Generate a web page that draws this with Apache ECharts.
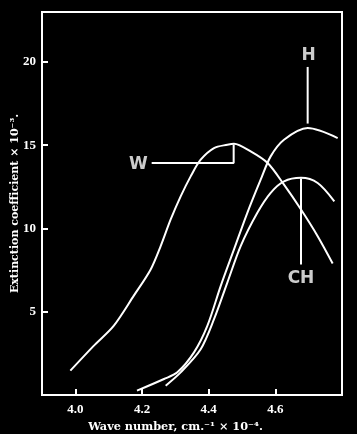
<!DOCTYPE html>
<html>
<head>
<meta charset="utf-8">
<script src="https://cdn.jsdelivr.net/npm/echarts@6/dist/echarts.min.js"></script>
<style>
html,body{margin:0;padding:0;background:#000;}
#c{width:357px;height:434px;}
</style>
</head>
<body>
<div id="c"></div>
<script>
const xTicks = [4.0, 4.2, 4.4, 4.6];
const yTicks = [5, 10, 15, 20];
const wCurve = [[3.985,1.46],[4.055,2.95],[4.115,4.15],[4.175,5.95],[4.226,7.54],[4.256,8.94],[4.286,10.54],[4.316,11.93],[4.346,13.13],[4.376,14.13],[4.416,14.83],[4.456,15.03],[4.476,15.09],[4.526,14.63],[4.577,13.93],[4.626,12.63],[4.677,11.14],[4.727,9.54],[4.772,7.9]];
const hCurve = [[4.185,0.26],[4.266,0.96],[4.306,1.36],[4.356,2.56],[4.396,4.15],[4.436,6.54],[4.476,8.74],[4.516,10.94],[4.556,12.93],[4.586,14.33],[4.626,15.33],[4.697,16.03],[4.787,15.43]];
const chCurve = [[4.271,0.56],[4.316,1.36],[4.376,2.75],[4.416,4.55],[4.456,6.75],[4.496,8.94],[4.546,10.94],[4.586,12.14],[4.626,12.83],[4.677,13.04],[4.727,12.73],[4.777,11.63]];
const wMarker = [[4.229,13.93],[4.475,13.93],[4.475,15.05]];
const hMarker = [[4.697,19.7],[4.697,16.3]];
const chMarker = [[4.677,13.0],[4.677,7.84]];
const curveLabels = [{name:'W', value:[4.189,13.83]},{name:'H', value:[4.700,20.4]},{name:'CH', value:[4.677,7.0]}];

const serif = '"Liberation Serif", "DejaVu Serif", serif';
const nameSerif = '"DejaVu Serif", "Liberation Serif", serif';
const lineStyle = {color:'#fff', width:2};
function curve(data){ return {type:'line', data:data, smooth:0.3, symbol:'none', lineStyle:lineStyle, silent:true}; }
function marker(data){ return {type:'line', data:data, smooth:false, symbol:'none', lineStyle:{color:'#fff', width:2}, silent:true}; }

const chart = echarts.init(document.getElementById('c'));
chart.setOption({
  backgroundColor:'#000',
  animation:false,
  grid:{left:42, right:15, top:12, bottom:39, outerBoundsMode:'none', containLabel:false, show:true, borderColor:'#fff', borderWidth:2},
  xAxis:{type:'value', min:3.9, max:4.8,
    axisLine:{show:true, lineStyle:{color:'#fff', width:2}},
    axisTick:{show:true, inside:true, length:6, lineStyle:{color:'#fff', width:2}, customValues:xTicks},
    axisLabel:{color:'#fff', fontFamily:serif, fontWeight:'bold', fontSize:13, margin:8, customValues:xTicks, formatter:v=>v.toFixed(1)},
    splitLine:{show:false},
    name:'Wave number, cm.\u207B\u00B9 \u00D7 10\u207B\u2074.', nameLocation:'middle', nameGap:27, nameMoveOverlap:false,
    nameTextStyle:{color:'#fff', fontFamily:nameSerif, fontWeight:'bold', fontSize:11.3, padding:[0,33,0,0]}
  },
  yAxis:{type:'value', min:0, max:23,
    axisLine:{show:true, lineStyle:{color:'#fff', width:2}},
    axisTick:{show:true, inside:true, length:6, lineStyle:{color:'#fff', width:2}, customValues:yTicks},
    axisLabel:{color:'#fff', fontFamily:serif, fontWeight:'bold', fontSize:13, margin:6, customValues:yTicks},
    splitLine:{show:false},
    name:'Extinction coefficient \u00D7 10\u207B\u00B3.', nameLocation:'middle', nameGap:21, nameMoveOverlap:false,
    nameTextStyle:{color:'#fff', fontFamily:nameSerif, fontWeight:'bold', fontSize:11}
  },
  series:[
    curve(wCurve), curve(hCurve), curve(chCurve),
    marker(wMarker), marker(hMarker), marker(chMarker),
    {type:'scatter', data:curveLabels, symbolSize:0, silent:true,
     label:{show:true, position:'inside', formatter:p=>p.name, color:'#fff', fontFamily:'"DejaVu Sans", sans-serif', fontWeight:'bold', fontSize:17}}
  ]
});
</script>
</body>
</html>
